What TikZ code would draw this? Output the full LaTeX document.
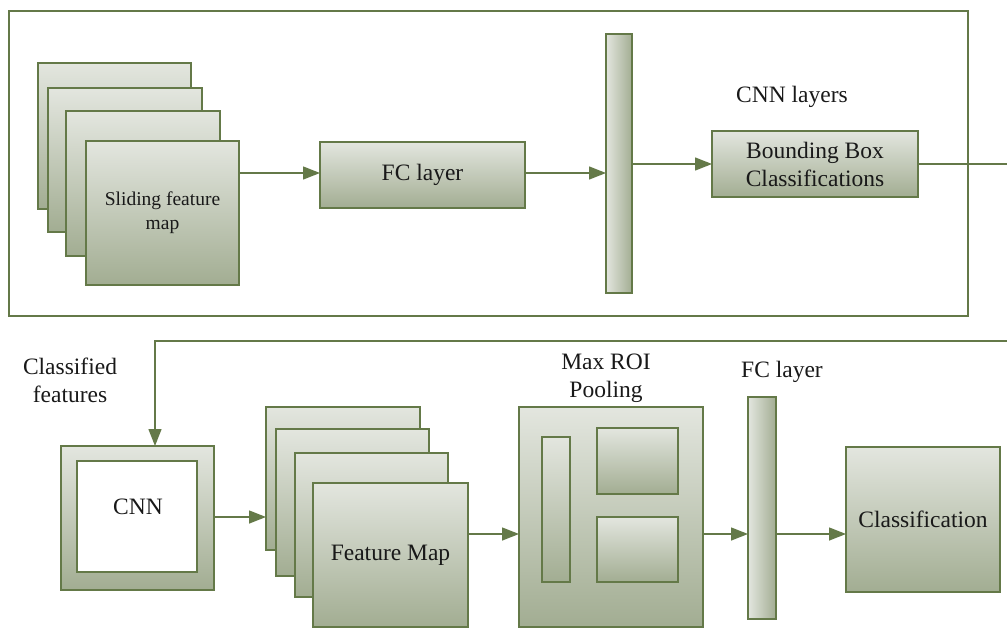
\documentclass[tikz,border=0pt]{standalone}
\usepackage{fontspec}
\setmainfont{Liberation Serif}
\usetikzlibrary{arrows.meta}

\definecolor{olive}{RGB}{100,121,72}
\definecolor{shadelite}{RGB}{227,230,223}
\definecolor{shadedark}{RGB}{162,173,146}
\definecolor{ink}{RGB}{25,25,25}

\tikzset{
  box/.style={draw=olive, line width=1.8pt, top color=shadelite, bottom color=shadedark,
    inner sep=0pt, outer sep=0pt, align=center, text=ink},
  % the y axis runs downwards here, so the horizontal shading is given mirrored
  vbar/.style={draw=olive, line width=1.8pt, left color=shadelite, right color=shadedark,
    inner sep=0pt, outer sep=0pt},
  plain/.style={draw=olive, line width=1.8pt, fill=white, inner sep=0pt, outer sep=0pt},
  frame/.style={draw=olive, line width=1.8pt, inner sep=0pt, outer sep=0pt},
  label/.style={text=ink, align=center, inner sep=0pt},
  arr/.style={draw=olive, line width=1.4pt, -{Triangle[length=17pt,width=13pt]}},
  link/.style={draw=olive, line width=1.4pt},
  big/.style={font=\fontsize{23.5}{28}\selectfont},
  small/.style={font=\fontsize{19.5}{24}\selectfont}
}

\begin{document}
\begin{tikzpicture}[x=1pt,y=-1pt]
\useasboundingbox (0,0) rectangle (1007,629);

% ---------- region proposal stage ----------
\node[frame, minimum width=959pt, minimum height=305pt] (stage) at (488.5,163.5) {};

\node[box, minimum width=153pt, minimum height=146pt] (s1) at (114.5,136) {};
\node[box, minimum width=154pt, minimum height=144pt] (s2) at (125,160) {};
\node[box, minimum width=154pt, minimum height=145pt] (s3) at (143,183.5) {};
\node[box, small, minimum width=153pt, minimum height=144pt] (s4) at (162.5,213) {Sliding feature\\map};

\node[box, big, minimum width=205pt, minimum height=66pt] (fc1) at (422.5,175) {FC layer};
\node[vbar, minimum width=26pt, minimum height=259pt] (bar1) at (619,163.5) {};
\node[box, big, minimum width=206pt, minimum height=66pt] (bb) at (815,164) {Bounding Box\\Classifications};
\node[label, big] (cnnlayers) at (792,97) {CNN layers};

\coordinate (rowA) at (0,173);
\draw[arr] (s4.east |- rowA) -- (fc1.west |- rowA);
\draw[arr] (fc1.east |- rowA) -- (bar1.west |- rowA);
\draw[arr] (bar1.east |- bb.west) -- (bb.west);

\coordinate (outA) at (1007,164);
\draw[link] (bb.east) -- (outA);

% ---------- detection stage ----------
\node[label, big] (classified) at (70,380) {Classified\\features};

\node[box, minimum width=153pt, minimum height=144pt] (cnn) at (137.5,518) {};
\node[plain, minimum width=120pt, minimum height=111pt] (cnnin) at (137,516.5) {};
\node[label, big] (cnntext) at (138,507) {CNN};

\coordinate (inB) at (1007,341);
\coordinate (turn) at (155,341);
\draw[arr] (inB) -- (turn) -- (turn |- cnn.north);

\node[box, minimum width=154pt, minimum height=143pt] (f1) at (343,478.5) {};
\node[box, minimum width=153pt, minimum height=147pt] (f2) at (352.5,502.5) {};
\node[box, minimum width=153pt, minimum height=144pt] (f3) at (371.5,525) {};
\node[box, big, minimum width=155pt, minimum height=144pt] (f4) at (390.5,555) {Feature Map};

\draw[arr] (cnn.east |- 0,517) -- (f1.west |- 0,517);

\node[box, minimum width=184pt, minimum height=220pt] (roi) at (611,517) {};
\node[box, minimum width=28pt, minimum height=145pt] (roibar) at (556,509.5) {};
\node[box, minimum width=81pt, minimum height=66pt] (roitop) at (637.5,461) {};
\node[box, minimum width=81pt, minimum height=65pt] (roibot) at (637.5,549.5) {};
\node[label, big] (roilabel) at (606,378) {Max ROI\\Pooling};

\node[vbar, minimum width=28pt, minimum height=222pt] (fc2) at (762,508) {};
\node[label, big] (fc2label) at (782,372) {FC layer};

\node[box, big, minimum width=154pt, minimum height=145pt] (cls) at (923,519.5) {Classification};

\coordinate (rowB) at (0,534);
\draw[arr] (f4.east |- rowB) -- (roi.west |- rowB);
\draw[arr] (roi.east |- rowB) -- (fc2.west |- rowB);
\draw[arr] (fc2.east |- rowB) -- (cls.west |- rowB);
\end{tikzpicture}
\end{document}
